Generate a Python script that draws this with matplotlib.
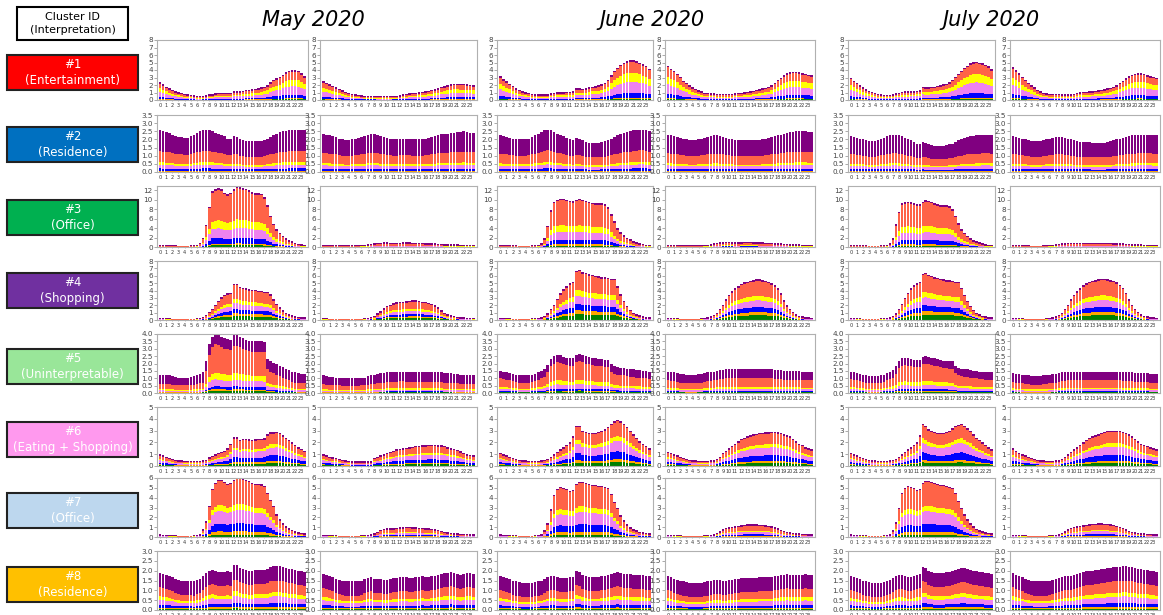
import numpy as np
import matplotlib
matplotlib.use("Agg")
import matplotlib.pyplot as plt
from matplotlib.patches import Rectangle

# half-hour totals (0:00 .. 23:30), weekday / weekend per month
c1_may_wd = [2.4,2.1,1.8,1.6,1.4,1.2,1.05,0.95,0.85,0.75,0.7,0.65,
             0.55,0.55,0.6,0.65,0.75,0.8,0.9,0.95,0.95,0.95,1.0,1.0,
             1.2,1.2,1.2,1.25,1.35,1.4,1.45,1.5,1.6,1.7,1.8,2.0,
             2.4,2.7,2.9,3.1,3.4,3.7,3.9,4.0,4.0,3.9,3.6,3.2]
c1_may_we = [2.5,2.3,2.1,1.9,1.7,1.5,1.3,1.1,0.95,0.85,0.75,0.7,
             0.65,0.6,0.6,0.6,0.6,0.55,0.55,0.55,0.55,0.55,0.6,0.6,
             0.65,0.75,0.85,0.9,0.95,1.0,1.05,1.1,1.15,1.25,1.35,1.45,
             1.6,1.75,1.85,2.0,2.1,2.2,2.2,2.15,2.15,2.1,2.05,2.0]
c1_jun_wd = [3.2,2.8,2.5,2.2,1.9,1.6,1.4,1.2,1.05,0.95,0.85,0.8,
             0.75,0.75,0.75,0.8,0.9,1.0,1.05,1.05,1.05,1.1,1.1,1.15,
             1.6,1.6,1.5,1.55,1.7,1.8,1.85,1.95,2.1,2.3,2.7,3.3,
             3.9,4.3,4.7,5.0,5.2,5.3,5.3,5.2,5.0,4.8,4.6,4.2]
c1_jun_we = [4.6,4.2,3.9,3.5,3.1,2.6,2.3,2.0,1.7,1.5,1.3,1.15,
             1.0,0.95,0.9,0.9,0.85,0.85,0.85,0.85,0.85,0.85,0.9,0.95,
             1.0,1.05,1.1,1.15,1.25,1.35,1.45,1.55,1.65,1.75,2.0,2.3,
             2.7,3.0,3.3,3.6,3.7,3.8,3.8,3.7,3.6,3.5,3.4,3.3]
c1_jul_wd = [3.0,2.6,2.3,2.0,1.7,1.45,1.25,1.1,0.95,0.85,0.75,0.7,
             0.7,0.7,0.75,0.9,1.0,1.1,1.15,1.15,1.2,1.2,1.25,1.3,
             1.75,1.7,1.7,1.75,1.8,1.9,2.0,2.1,2.2,2.4,2.7,3.1,
             3.5,3.9,4.3,4.6,4.9,5.05,5.1,5.0,4.9,4.7,4.5,4.1]
c1_jul_we = [4.4,4.0,3.6,3.1,2.7,2.3,2.0,1.7,1.4,1.15,0.95,0.9,
             0.85,0.85,0.85,0.85,0.8,0.8,0.8,0.8,0.85,0.95,1.05,1.1,
             1.1,1.15,1.2,1.25,1.3,1.35,1.45,1.55,1.65,1.8,2.0,2.3,
             2.6,2.9,3.2,3.4,3.5,3.55,3.55,3.5,3.3,3.2,3.1,3.0]

c2_may_wd = [2.55,2.5,2.45,2.4,2.3,2.2,2.15,2.15,2.1,2.1,2.2,2.3,
             2.4,2.5,2.6,2.6,2.55,2.5,2.4,2.35,2.3,2.2,2.05,2.05,
             2.2,2.15,2.0,1.95,1.9,1.9,1.9,1.9,1.9,1.9,1.95,2.05,
             2.15,2.25,2.35,2.45,2.5,2.5,2.55,2.6,2.6,2.6,2.6,2.55]
c2_may_we = [2.35,2.3,2.25,2.2,2.15,2.05,2.0,1.95,1.95,2.0,2.05,2.1,
             2.15,2.2,2.3,2.35,2.35,2.3,2.2,2.15,2.1,2.05,2.0,2.0,
             2.05,2.05,2.05,2.05,2.0,2.0,2.0,2.0,2.05,2.1,2.15,2.2,
             2.3,2.35,2.35,2.35,2.4,2.4,2.45,2.45,2.5,2.45,2.4,2.4]
c2_jun_wd = [2.25,2.2,2.15,2.1,2.05,2.0,2.0,2.0,2.0,2.05,2.15,2.25,
             2.35,2.45,2.55,2.6,2.55,2.45,2.35,2.3,2.2,2.1,2.0,1.95,
             2.1,2.05,1.95,1.85,1.8,1.8,1.8,1.8,1.85,1.9,1.95,2.05,
             2.15,2.25,2.35,2.4,2.45,2.5,2.55,2.55,2.6,2.6,2.55,2.5]
c2_jun_we = [2.3,2.25,2.2,2.15,2.1,2.05,2.0,1.95,1.95,1.95,2.0,2.05,
             2.1,2.15,2.2,2.25,2.25,2.2,2.15,2.1,2.05,2.0,1.95,1.95,
             1.95,1.95,1.95,1.95,1.95,1.95,1.95,2.0,2.05,2.1,2.15,2.2,
             2.25,2.3,2.35,2.4,2.45,2.45,2.5,2.5,2.5,2.5,2.45,2.45]
c2_jul_wd = [2.2,2.15,2.1,2.05,2.0,1.95,1.9,1.9,1.9,1.95,2.05,2.1,
             2.2,2.25,2.3,2.3,2.25,2.2,2.1,2.0,1.95,1.85,1.75,1.75,
             1.85,1.8,1.7,1.65,1.6,1.6,1.6,1.6,1.65,1.7,1.75,1.85,
             1.95,2.0,2.1,2.15,2.2,2.2,2.25,2.25,2.3,2.3,2.3,2.25]
c2_jul_we = [2.2,2.15,2.1,2.05,2.0,1.95,1.9,1.9,1.9,1.9,1.95,2.0,
             2.05,2.1,2.15,2.15,2.15,2.1,2.05,2.0,1.95,1.9,1.85,1.85,
             1.85,1.85,1.8,1.8,1.8,1.8,1.8,1.85,1.9,1.95,2.0,2.05,
             2.1,2.15,2.2,2.25,2.25,2.3,2.3,2.3,2.3,2.3,2.25,2.25]

c3_may_wd = [0.4,0.4,0.35,0.35,0.35,0.35,0.3,0.3,0.3,0.3,0.35,0.4,
             0.5,0.9,2.0,4.7,8.5,11.8,12.2,12.5,12.2,11.5,11.2,11.5,
             12.2,12.8,12.7,12.5,12.3,12.0,11.6,11.4,11.4,11.3,10.5,8.9,
             6.6,4.9,3.8,3.0,2.4,1.8,1.5,1.2,0.9,0.7,0.55,0.45]
c3_may_we = [0.4,0.4,0.4,0.35,0.35,0.35,0.35,0.35,0.35,0.35,0.4,0.4,
             0.45,0.5,0.6,0.7,0.85,0.9,0.95,1.0,1.0,0.95,0.9,0.9,
             0.95,1.0,1.0,1.0,0.95,0.95,0.9,0.9,0.85,0.85,0.8,0.75,
             0.7,0.65,0.6,0.6,0.55,0.55,0.55,0.5,0.5,0.5,0.45,0.45]
c3_jun_wd = [0.4,0.4,0.35,0.35,0.35,0.35,0.3,0.3,0.3,0.3,0.35,0.4,
             0.5,0.8,1.8,4.5,7.8,9.6,10.0,10.2,10.2,10.0,9.8,9.7,
             10.0,10.2,10.0,9.8,9.6,9.4,9.3,9.2,9.2,9.0,8.4,7.0,
             5.4,4.0,3.1,2.5,2.0,1.6,1.3,1.0,0.8,0.65,0.5,0.45]
c3_jun_we = [0.4,0.4,0.4,0.35,0.35,0.35,0.35,0.35,0.35,0.35,0.4,0.4,
             0.45,0.5,0.6,0.75,0.9,1.0,1.05,1.1,1.1,1.05,1.0,1.0,
             1.05,1.1,1.1,1.1,1.05,1.05,1.0,1.0,0.95,0.95,0.9,0.85,
             0.8,0.75,0.7,0.65,0.6,0.6,0.55,0.55,0.5,0.5,0.45,0.45]
c3_jul_wd = [0.4,0.4,0.35,0.35,0.35,0.35,0.3,0.3,0.3,0.3,0.35,0.4,
             0.5,0.8,1.8,4.8,7.5,9.2,9.5,9.6,9.5,9.3,9.0,9.0,
             9.6,9.9,9.8,9.6,9.3,9.0,8.9,8.8,8.8,8.6,8.0,6.6,
             5.0,3.8,3.0,2.4,1.9,1.5,1.2,1.0,0.8,0.6,0.5,0.45]
c3_jul_we = [0.4,0.4,0.35,0.35,0.35,0.35,0.3,0.3,0.3,0.3,0.35,0.4,
             0.45,0.5,0.55,0.65,0.75,0.85,0.9,0.9,0.9,0.9,0.9,0.9,
             0.95,0.95,0.95,0.95,0.95,0.95,0.9,0.9,0.9,0.85,0.85,0.8,
             0.75,0.7,0.65,0.6,0.6,0.55,0.55,0.5,0.5,0.45,0.45,0.45]

c4_may_wd = [0.3,0.3,0.25,0.25,0.2,0.2,0.2,0.2,0.2,0.2,0.2,0.2,
             0.25,0.3,0.45,0.7,1.1,1.5,2.1,2.6,3.1,3.4,3.6,3.7,
             4.9,4.9,4.5,4.4,4.3,4.2,4.1,4.1,4.0,4.0,3.8,3.8,
             3.5,2.8,2.2,1.7,1.3,1.0,0.8,0.65,0.5,0.45,0.4,0.35]
c4_may_we = [0.25,0.25,0.2,0.2,0.2,0.2,0.15,0.15,0.15,0.15,0.2,0.2,
             0.2,0.25,0.3,0.45,0.6,0.9,1.2,1.6,1.9,2.1,2.3,2.4,
             2.45,2.5,2.55,2.6,2.65,2.7,2.6,2.5,2.45,2.35,2.2,2.0,
             1.7,1.35,1.0,0.8,0.65,0.55,0.45,0.4,0.35,0.3,0.3,0.25]
c4_jun_wd = [0.3,0.3,0.25,0.25,0.2,0.2,0.2,0.2,0.2,0.2,0.25,0.25,
             0.3,0.4,0.6,0.9,1.5,2.1,2.9,3.6,4.2,4.6,5.0,5.2,
             6.7,6.8,6.5,6.4,6.2,6.1,6.0,5.9,5.8,5.8,5.7,5.6,
             5.6,4.6,3.5,2.6,1.9,1.4,1.0,0.8,0.65,0.5,0.4,0.35]
c4_jun_we = [0.3,0.3,0.25,0.25,0.2,0.2,0.2,0.2,0.2,0.2,0.2,0.25,
             0.3,0.35,0.5,0.7,1.0,1.5,2.1,2.8,3.4,3.9,4.3,4.6,
             4.9,5.1,5.2,5.3,5.4,5.5,5.5,5.4,5.3,5.2,5.0,4.7,
             4.3,3.6,2.7,2.0,1.5,1.1,0.8,0.6,0.5,0.4,0.35,0.3]
c4_jul_wd = [0.3,0.3,0.25,0.25,0.2,0.2,0.2,0.2,0.2,0.2,0.25,0.25,
             0.3,0.4,0.6,0.9,1.5,2.2,3.0,3.7,4.3,4.7,5.0,5.2,
             6.3,6.4,6.1,6.0,5.8,5.7,5.6,5.5,5.4,5.4,5.3,5.2,
             5.2,4.4,3.4,2.6,1.9,1.4,1.0,0.8,0.6,0.5,0.4,0.35]
c4_jul_we = [0.3,0.3,0.25,0.25,0.2,0.2,0.2,0.2,0.2,0.2,0.2,0.25,
             0.3,0.35,0.5,0.7,1.0,1.5,2.1,2.8,3.4,3.9,4.3,4.7,
             5.0,5.2,5.3,5.4,5.5,5.6,5.6,5.5,5.4,5.3,5.1,4.8,
             4.4,3.7,2.8,2.1,1.5,1.1,0.8,0.6,0.5,0.4,0.35,0.3]

c5_may_wd = [1.25,1.25,1.2,1.2,1.15,1.1,1.05,1.05,1.05,1.05,1.1,1.15,
             1.2,1.3,1.4,2.2,3.3,3.8,4.0,3.95,3.8,3.7,3.65,3.6,
             3.9,3.9,3.8,3.7,3.6,3.55,3.5,3.5,3.5,3.5,3.45,2.3,
             2.15,2.05,1.95,1.85,1.75,1.65,1.55,1.45,1.4,1.35,1.3,1.3]
c5_may_we = [1.2,1.15,1.1,1.1,1.05,1.05,1.0,1.0,1.0,1.0,1.0,1.0,
             1.05,1.05,1.15,1.2,1.25,1.3,1.35,1.35,1.4,1.4,1.4,1.4,
             1.45,1.45,1.4,1.4,1.4,1.4,1.4,1.4,1.4,1.4,1.4,1.4,
             1.4,1.4,1.35,1.35,1.35,1.3,1.3,1.25,1.25,1.25,1.25,1.2]
c5_jun_wd = [1.5,1.45,1.4,1.35,1.3,1.25,1.2,1.2,1.2,1.2,1.25,1.3,
             1.4,1.5,1.6,1.9,2.3,2.5,2.6,2.55,2.45,2.4,2.35,2.35,
             2.6,2.65,2.6,2.5,2.45,2.4,2.35,2.3,2.3,2.25,2.25,1.95,
             1.8,1.75,1.7,1.7,1.65,1.6,1.6,1.55,1.55,1.5,1.5,1.45]
c5_jun_we = [1.45,1.4,1.4,1.35,1.3,1.3,1.25,1.25,1.25,1.25,1.3,1.3,
             1.35,1.4,1.4,1.45,1.5,1.55,1.55,1.6,1.6,1.6,1.6,1.6,
             1.6,1.6,1.6,1.6,1.6,1.6,1.6,1.6,1.6,1.6,1.6,1.55,
             1.55,1.55,1.5,1.5,1.5,1.5,1.5,1.5,1.45,1.45,1.45,1.45]
c5_jul_wd = [1.45,1.4,1.35,1.3,1.25,1.2,1.15,1.15,1.15,1.15,1.2,1.25,
             1.35,1.45,1.55,1.8,2.2,2.35,2.4,2.35,2.3,2.25,2.25,2.25,
             2.45,2.5,2.45,2.4,2.35,2.3,2.25,2.2,2.2,2.15,2.15,1.85,
             1.7,1.65,1.6,1.6,1.55,1.5,1.5,1.45,1.45,1.4,1.4,1.4]
c5_jul_we = [1.35,1.3,1.3,1.25,1.2,1.2,1.15,1.15,1.15,1.15,1.2,1.2,
             1.25,1.3,1.3,1.35,1.4,1.4,1.45,1.45,1.45,1.45,1.45,1.45,
             1.45,1.45,1.45,1.45,1.45,1.45,1.45,1.45,1.45,1.45,1.45,1.45,
             1.4,1.4,1.4,1.4,1.35,1.35,1.35,1.35,1.35,1.3,1.3,1.3]

c6_may_wd = [1.0,0.9,0.8,0.7,0.6,0.55,0.5,0.5,0.45,0.45,0.45,0.45,
             0.45,0.45,0.5,0.55,0.75,0.85,1.0,1.1,1.2,1.3,1.5,1.9,
             2.45,2.45,2.2,2.3,2.3,2.25,2.2,2.25,2.3,2.3,2.35,2.7,
             2.85,2.85,2.9,2.8,2.6,2.4,2.2,2.0,1.8,1.6,1.45,1.3]
c6_may_we = [1.0,0.9,0.8,0.75,0.7,0.6,0.55,0.5,0.45,0.4,0.4,0.4,
             0.4,0.4,0.4,0.4,0.7,0.8,0.9,1.0,1.1,1.2,1.3,1.4,
             1.45,1.5,1.55,1.6,1.65,1.7,1.7,1.75,1.75,1.8,1.8,1.8,
             1.75,1.75,1.7,1.6,1.5,1.45,1.35,1.25,1.1,1.0,0.95,0.9]
c6_jun_wd = [1.1,1.0,0.9,0.8,0.7,0.6,0.55,0.5,0.5,0.45,0.45,0.45,
             0.45,0.5,0.55,0.6,0.8,1.0,1.2,1.4,1.6,1.8,2.0,2.5,
             3.4,3.4,3.0,2.9,2.8,2.8,2.8,2.9,3.0,3.1,3.3,3.6,
             3.8,3.9,3.8,3.6,3.3,3.0,2.7,2.4,2.1,1.9,1.7,1.5]
c6_jun_we = [1.2,1.1,1.0,0.9,0.8,0.7,0.6,0.55,0.5,0.5,0.45,0.45,
             0.45,0.45,0.5,0.5,0.6,0.8,1.1,1.3,1.5,1.7,1.9,2.1,
             2.3,2.4,2.5,2.6,2.7,2.75,2.8,2.8,2.85,2.85,2.9,2.9,
             2.85,2.8,2.7,2.6,2.5,2.3,2.1,1.9,1.8,1.6,1.5,1.4]
c6_jul_wd = [1.1,1.0,0.9,0.8,0.7,0.6,0.55,0.5,0.5,0.45,0.45,0.45,
             0.45,0.5,0.55,0.6,0.8,1.0,1.2,1.4,1.6,1.8,2.0,2.6,
             3.6,3.4,3.1,3.0,2.9,2.8,2.8,2.8,2.9,3.0,3.2,3.4,
             3.5,3.6,3.4,3.2,3.0,2.7,2.4,2.2,2.0,1.8,1.6,1.4]
c6_jul_we = [1.5,1.3,1.1,1.0,0.9,0.8,0.7,0.6,0.55,0.5,0.5,0.45,
             0.45,0.45,0.5,0.5,0.6,0.8,1.0,1.2,1.4,1.6,1.8,2.0,
             2.2,2.4,2.5,2.6,2.7,2.8,2.9,3.0,3.0,3.0,3.0,3.0,
             2.9,2.8,2.7,2.5,2.3,2.1,1.9,1.8,1.7,1.6,1.5,1.4]

c7_may_wd = [0.3,0.25,0.25,0.2,0.2,0.2,0.15,0.15,0.15,0.15,0.15,0.2,
             0.25,0.3,0.8,1.6,3.2,4.9,5.5,5.8,5.8,5.6,5.4,5.5,
             5.8,6.0,6.0,5.95,5.8,5.7,5.5,5.4,5.4,5.35,5.2,4.5,
             3.8,3.2,2.3,1.8,1.4,1.1,0.9,0.75,0.6,0.5,0.45,0.4]
c7_may_we = [0.25,0.25,0.2,0.2,0.2,0.15,0.15,0.15,0.15,0.15,0.15,0.15,
             0.2,0.2,0.25,0.3,0.4,0.55,0.75,0.85,0.9,0.9,0.9,0.95,
             1.0,1.0,1.05,1.05,1.0,1.0,0.95,0.95,0.9,0.9,0.85,0.8,
             0.75,0.65,0.55,0.5,0.45,0.4,0.4,0.35,0.35,0.35,0.3,0.3]
c7_jun_wd = [0.3,0.25,0.25,0.2,0.2,0.2,0.15,0.15,0.15,0.15,0.15,0.2,
             0.25,0.3,0.7,1.4,2.8,4.3,4.9,5.1,5.0,4.9,4.7,4.8,
             5.4,5.6,5.6,5.5,5.4,5.3,5.3,5.2,5.2,5.1,5.0,4.4,
             3.6,3.0,2.2,1.7,1.3,1.0,0.8,0.7,0.55,0.5,0.45,0.4]
c7_jun_we = [0.25,0.25,0.2,0.2,0.2,0.15,0.15,0.15,0.15,0.15,0.15,0.15,
             0.2,0.2,0.25,0.3,0.45,0.6,0.8,0.95,1.0,1.05,1.1,1.15,
             1.2,1.25,1.3,1.3,1.3,1.3,1.25,1.25,1.2,1.15,1.1,1.0,
             0.9,0.75,0.65,0.55,0.5,0.45,0.4,0.4,0.35,0.35,0.3,0.3]
c7_jul_wd = [0.3,0.25,0.25,0.2,0.2,0.2,0.15,0.15,0.15,0.15,0.15,0.2,
             0.25,0.3,0.7,1.5,3.0,4.5,5.0,5.2,5.1,5.0,4.8,4.9,
             5.5,5.7,5.7,5.6,5.5,5.4,5.3,5.3,5.2,5.1,5.0,4.5,
             3.7,3.0,2.3,1.8,1.4,1.1,0.85,0.7,0.6,0.5,0.45,0.4]
c7_jul_we = [0.25,0.25,0.2,0.2,0.2,0.15,0.15,0.15,0.15,0.15,0.15,0.15,
             0.2,0.2,0.25,0.3,0.45,0.6,0.8,0.95,1.05,1.1,1.15,1.2,
             1.25,1.3,1.35,1.35,1.4,1.4,1.35,1.35,1.3,1.25,1.15,1.05,
             0.95,0.8,0.65,0.55,0.5,0.45,0.4,0.4,0.35,0.35,0.3,0.3]

c8_may_wd = [1.9,1.85,1.8,1.75,1.7,1.6,1.55,1.5,1.5,1.5,1.5,1.45,
             1.55,1.6,1.75,1.9,2.0,2.05,2.0,1.95,1.95,1.95,2.0,1.95,
             2.3,2.3,2.15,2.1,2.05,2.0,2.0,2.05,2.05,2.05,2.05,2.1,
             2.2,2.25,2.25,2.25,2.2,2.15,2.1,2.1,2.05,2.0,2.0,1.95]
c8_may_we = [1.85,1.8,1.75,1.7,1.6,1.55,1.5,1.45,1.45,1.45,1.45,1.45,
             1.5,1.6,1.65,1.7,1.6,1.6,1.6,1.55,1.55,1.6,1.65,1.65,
             1.7,1.7,1.7,1.65,1.65,1.7,1.7,1.75,1.7,1.7,1.75,1.75,
             1.8,1.85,1.9,1.9,1.95,1.9,1.85,1.8,1.85,1.9,1.9,1.85]
c8_jun_wd = [1.75,1.7,1.65,1.6,1.5,1.45,1.4,1.35,1.35,1.35,1.35,1.4,
             1.45,1.5,1.6,1.7,1.75,1.75,1.7,1.65,1.65,1.65,1.7,1.7,
             2.0,1.95,1.8,1.75,1.7,1.7,1.7,1.7,1.75,1.75,1.8,1.85,
             1.9,1.95,1.9,1.85,1.85,1.85,1.8,1.8,1.8,1.8,1.75,1.75]
c8_jun_we = [1.75,1.7,1.6,1.55,1.5,1.45,1.4,1.35,1.35,1.35,1.35,1.35,
             1.4,1.45,1.5,1.55,1.55,1.55,1.5,1.5,1.55,1.55,1.6,1.6,
             1.65,1.65,1.65,1.65,1.65,1.65,1.7,1.7,1.7,1.7,1.7,1.75,
             1.75,1.8,1.8,1.85,1.8,1.8,1.8,1.8,1.8,1.85,1.8,1.8]
c8_jul_wd = [1.75,1.7,1.65,1.6,1.5,1.45,1.4,1.35,1.35,1.35,1.35,1.4,
             1.5,1.55,1.65,1.75,1.8,1.8,1.75,1.7,1.7,1.75,1.8,1.85,
             2.2,2.15,2.0,1.95,1.9,1.9,1.9,1.9,1.95,1.95,2.0,2.05,
             2.1,2.15,2.15,2.1,2.05,2.0,2.0,1.95,1.95,1.9,1.9,1.85]
c8_jul_we = [1.9,1.8,1.75,1.7,1.6,1.55,1.5,1.45,1.45,1.45,1.45,1.45,
             1.5,1.55,1.6,1.65,1.7,1.75,1.75,1.75,1.8,1.85,1.9,1.95,
             2.0,2.0,2.0,2.05,2.05,2.1,2.1,2.15,2.15,2.2,2.2,2.2,
             2.25,2.25,2.2,2.2,2.15,2.1,2.1,2.05,2.05,2.0,2.0,1.95]

# share of each lower layer (green, orange, blue, violet, yellow, tomato)
shares = [
    [0.03, 0.03, 0.13, 0.29, 0.23, 0.29],
    [0.02, 0.03, 0.12, 0.18, 0.12, 0.53],
    [0.03, 0.03, 0.10, 0.17, 0.14, 0.53],
    [0.12, 0.08, 0.13, 0.17, 0.12, 0.38],
    [0.05, 0.03, 0.06, 0.14, 0.14, 0.58],
    [0.09, 0.06, 0.18, 0.24, 0.10, 0.33],
    [0.04, 0.06, 0.14, 0.23, 0.10, 0.43],
    [0.05, 0.06, 0.13, 0.22, 0.15, 0.39],
]
# purple top layer thickness, per panel
caps = [
    [0.2] * 6,
    [1.3, 1.35, 1.25, 1.35, 1.2, 1.3],
    [0.35] * 6,
    [0.2] * 6,
    [0.7, 0.65, 0.5, 0.6, 0.5, 0.6],
    [0.12] * 6,
    [0.15] * 6,
    [0.75] * 6,
]

panels = [
    [c1_may_wd, c1_may_we, c1_jun_wd, c1_jun_we, c1_jul_wd, c1_jul_we],
    [c2_may_wd, c2_may_we, c2_jun_wd, c2_jun_we, c2_jul_wd, c2_jul_we],
    [c3_may_wd, c3_may_we, c3_jun_wd, c3_jun_we, c3_jul_wd, c3_jul_we],
    [c4_may_wd, c4_may_we, c4_jun_wd, c4_jun_we, c4_jul_wd, c4_jul_we],
    [c5_may_wd, c5_may_we, c5_jun_wd, c5_jun_we, c5_jul_wd, c5_jul_we],
    [c6_may_wd, c6_may_we, c6_jun_wd, c6_jun_we, c6_jul_wd, c6_jul_we],
    [c7_may_wd, c7_may_we, c7_jun_wd, c7_jun_we, c7_jul_wd, c7_jul_we],
    [c8_may_wd, c8_may_we, c8_jun_wd, c8_jun_we, c8_jul_wd, c8_jul_we],
]

layer_colors = ['green', 'orange', 'blue', 'violet', 'yellow', 'tomato']
cap_color = 'purple'

months = ['May 2020', 'June 2020', 'July 2020']
labels = ['#1\n(Entertainment)', '#2\n(Residence)', '#3\n(Office)', '#4\n(Shopping)',
          '#5\n(Uninterpretable)', '#6\n(Eating + Shopping)', '#7\n(Office)', '#8\n(Residence)']
label_colors = ['#FF0000', '#0070C0', '#00B050', '#7030A0',
                '#99E699', '#FF99EE', '#BDD7EE', '#FFC000']

ylims = [8, 3.5, 12.9, 8, 4, 5, 6, 3]
yticks = [np.arange(0, 9, 1), np.arange(0, 3.6, 0.5), np.arange(0, 13, 2), np.arange(0, 9, 1),
          np.arange(0, 4.1, 0.5), np.arange(0, 6, 1), np.arange(0, 7, 1), np.arange(0, 3.1, 0.5)]
yfmt = ['%d', '%.1f', '%d', '%d', '%.1f', '%d', '%d', '%.1f']

# layout in pixels
W, H = 1163, 615
col_l = [157, 320, 497, 665, 848, 1010]
col_r = [308, 477, 653, 815, 995, 1160]
row_t = [40, 115, 186, 261, 334, 407, 478, 551]
row_b = [100, 172, 247, 320, 393, 466, 537, 610]
box_t = [55, 127, 200, 273, 349, 422, 493, 567]

fig = plt.figure(figsize=(W / 100, H / 100), dpi=100)

x = np.arange(48) / 2.0
for r in range(8):
    sh = np.array(shares[r]) / sum(shares[r])
    for c in range(6):
        ax = fig.add_axes([col_l[c] / W, 1 - row_b[r] / H,
                           (col_r[c] - col_l[c]) / W, (row_b[r] - row_t[r]) / H])
        tot = np.array(panels[r][c])
        top = np.minimum(caps[r][c], tot * 0.5)
        lower = tot - top
        bottom = np.zeros(48)
        for s, col in zip(sh, layer_colors):
            h = lower * s
            ax.bar(x, h, bottom=bottom, width=0.42, color=col, linewidth=0, align='edge')
            bottom = bottom + h
        ax.bar(x, top, bottom=bottom, width=0.42, color=cap_color, linewidth=0, align='edge')
        ax.set_xlim(-0.3, 24.3)
        ax.set_ylim(0, ylims[r])
        ax.set_xticks(np.arange(24) + 0.2)
        ax.set_xticklabels([str(i) for i in range(24)], fontsize=3.6, color='#333333')
        ax.set_yticks(yticks[r])
        ax.set_yticklabels([yfmt[r] % v for v in yticks[r]], fontsize=5.2, color='#444444')
        ax.tick_params(axis='x', length=1, width=0.4, pad=1, colors='#888888', labelcolor='#333333')
        ax.tick_params(axis='y', length=2, width=0.5, pad=1, colors='#888888', labelcolor='#444444')
        for sp in ax.spines.values():
            sp.set_color('#b0b0b0')
            sp.set_linewidth(0.8)

# month titles
for name, cx in zip(months, [313, 652, 991]):
    fig.text(cx / W, 1 - 20 / H, name, fontsize=15, style='italic', ha='center', va='center')

# cluster label boxes
fig.patches.append(Rectangle((17 / W, 1 - 40 / H), 111 / W, 33 / H, transform=fig.transFigure,
                             facecolor='white', edgecolor='black', linewidth=1.5))
fig.text(72.5 / W, 1 - 23.5 / H, 'Cluster ID\n(Interpretation)', fontsize=8, ha='center',
         va='center', linespacing=1.3)
for lab, col, t in zip(labels, label_colors, box_t):
    fig.patches.append(Rectangle((7 / W, 1 - (t + 35) / H), 131 / W, 35 / H, transform=fig.transFigure,
                                 facecolor=col, edgecolor='#222222', linewidth=1.5))
    fig.text(72.5 / W, 1 - (t + 17.5) / H, lab, fontsize=8.5, ha='center', va='center',
             color='white', linespacing=1.3)

fig.savefig('out.png', dpi=100)
